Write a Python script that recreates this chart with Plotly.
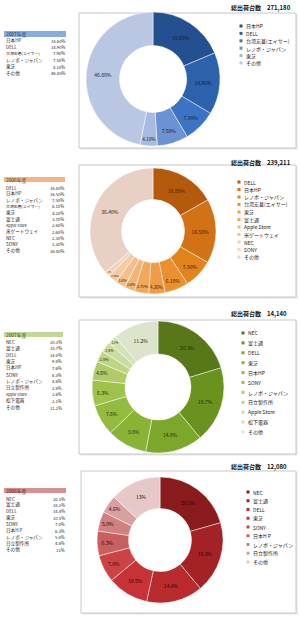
import plotly.graph_objects as go

W, H = 300, 619
FONT = "Noto Sans CJK JP"

# ---------------- data ----------------
p1_title = "総出荷台数　271,180"
p1_year = "2007年度"
p1_labels = ["日本HP", "DELL", "台湾宏碁(エイサー)", "レノボ・ジャパン", "東芝", "その他"]
p1_values = [18.60, 14.90, 7.90, 7.50, 4.10, 46.80]
p1_text = ["18.60%", "14.90%", "7.90%", "7.50%", "4.10%", "46.80%"]

p2_title = "総出荷台数　239,211"
p2_year = "2006年度"
p2_labels = ["DELL", "日本HP", "レノボ・ジャパン", "台湾宏碁(エイサー)", "東芝", "富士通",
             "Apple Store", "米ゲートウェイ", "NEC", "SONY", "その他"]
p2_values = [16.80, 16.50, 7.50, 6.10, 4.20, 3.70, 2.60, 2.60, 2.30, 1.30, 36.40]
p2_text = ["16.80%", "16.50%", "7.50%", "6.10%", "4.20%", "3.70%", "2.60%", "2.60%", "2.30%", "1.30%", "36.40%"]

p3_title = "総出荷台数　14,140"
p3_year = "2007年度"
p3_labels = ["NEC", "富士通", "DELL", "東芝", "日本HP", "SONY", "レノボ・ジャパン", "日立製作所",
             "Apple Store", "松下電器", "その他"]
p3_values = [20.3, 18.7, 14.0, 9.8, 7.6, 6.3, 4.6, 2.8, 2.6, 2.1, 11.2]
p3_text = ["20.3%", "18.7%", "14.0%", "9.8%", "7.6%", "6.3%", "4.6%", "2.8%", "2.6%", "2.1%", "11.2%"]

p4_title = "総出荷台数　12,080"
p4_year = "2006年度"
p4_labels = ["NEC", "富士通", "DELL", "東芝", "SONY", "日本H P", "レノボ・ジャパン", "日立製作所", "その他"]
p4_values = [20.5, 18.3, 14.4, 10.5, 7.0, 6.3, 5.0, 4.6, 13]
p4_text = ["20.5%", "18.3%", "14.4%", "10.5%", "7.0%", "6.3%", "5.0%", "4.6%", "13%"]

# ---------------- styles ----------------
p1_colors = ["#24508f", "#2c61ac", "#3b74c4", "#6a93d3", "#a6bbdf", "#b9c7e2"]
p2_colors = ["#b45a0c", "#d27116", "#e3831c", "#eb9030", "#ef9c45", "#f1a85a",
             "#f3b474", "#f4bf8c", "#f5caa4", "#f3d3bd", "#e9d0c5"]
p3_colors = ["#587719", "#6a921f", "#7da72a", "#8ab335", "#94bb3e", "#9fc24b",
             "#afcb68", "#bfd585", "#cbdd9e", "#d5e2b5", "#dde4cd"]
p4_colors = ["#8a1b1d", "#a32226", "#b92a2d", "#c63236", "#cd4345", "#c9605f",
             "#d0807f", "#d9a0a0", "#e6c8c8"]
header_colors = ["#88aee0", "#f4b585", "#c3d897", "#d88f8f"]
header_text_colors = ["#1b2f6a", "#5a2a00", "#2c3d10", "#5a1010"]

panels = [
    dict(title=p1_title, year=p1_year, labels=p1_labels, values=p1_values, text=p1_text, colors=p1_colors,
         cx=153, cy=79, R=67, box=(79, 13, 296, 148), title_y=8,
         leg_x=241, leg_y0=26, leg_dy=7.4,
         tab_hdr=(4, 31, 66, 37), tab_y0=40.5, tab_dy=6.5, txt_col="#141830"),
    dict(title=p2_title, year=p2_year, labels=p2_labels, values=p2_values, text=p2_text, colors=p2_colors,
         cx=153, cy=231, R=63, box=(79, 165, 296, 297), title_y=162,
         leg_x=239, leg_y0=182, leg_dy=7.5,
         tab_hdr=(4, 177, 65, 182), tab_y0=187.5, tab_dy=6.3, txt_col="#3a2000"),
    dict(title=p3_title, year=p3_year, labels=p3_labels, values=p3_values, text=p3_text, colors=p3_colors,
         cx=158, cy=387, R=66, box=(79, 320, 296, 454), title_y=313,
         leg_x=243, leg_y0=333, leg_dy=9.9,
         tab_hdr=(4, 332, 63, 337), tab_y0=341.5, tab_dy=6.6, txt_col="#1f2a05"),
    dict(title=p4_title, year=p4_year, labels=p4_labels, values=p4_values, text=p4_text, colors=p4_colors,
         cx=160, cy=540, R=63, box=(81, 471, 296, 613), title_y=466,
         leg_x=248, leg_y0=492, leg_dy=8.75,
         tab_hdr=(4, 488, 66, 493), tab_y0=498.5, tab_dy=6.4, txt_col="#2a0505"),
]


def px(x):
    return x / W


def py(y):
    return 1 - y / H


fig = go.Figure()
shapes = []
annotations = []

for i, p in enumerate(panels):
    cx, cy, R = p["cx"], p["cy"], p["R"]
    # chart box
    x0, y0, x1, y1 = p["box"]
    shapes.append(dict(type="rect", xref="paper", yref="paper",
                       x0=px(x0 + 1.5), x1=px(x1 + 1.5), y0=py(y1 + 1.5), y1=py(y0 + 1.5),
                       line=dict(width=0), fillcolor="#e4e4e4", layer="below"))
    shapes.append(dict(type="rect", xref="paper", yref="paper",
                       x0=px(x0), x1=px(x1), y0=py(y1), y1=py(y0),
                       line=dict(color="#c8c8c8", width=1), fillcolor="#ffffff", layer="below"))

    fig.add_trace(go.Pie(
        labels=p["labels"], values=p["values"], text=p["text"],
        textinfo="text", textposition="inside", insidetextorientation="horizontal",
        textfont=dict(size=5, color=p["txt_col"], family=FONT),
        hole=0.5, sort=False, direction="clockwise", rotation=0,
        marker=dict(colors=p["colors"], line=dict(color="rgba(255,255,255,0.6)", width=0.8)),
        domain=dict(x=[px(cx - R), px(cx + R)], y=[py(cy + R), py(cy - R)]),
        showlegend=False, hoverinfo="label+percent",
    ))

    # title
    annotations.append(dict(text="<b>" + p["title"] + "</b>", x=px(229), y=py(p["title_y"]),
                            xref="paper", yref="paper", xanchor="left", yanchor="middle",
                            showarrow=False, font=dict(size=6, color="#111", family=FONT)))

    # custom legend
    for k, (lab, col) in enumerate(zip(p["labels"], p["colors"])):
        ly = p["leg_y0"] + k * p["leg_dy"]
        lx = p["leg_x"]
        shapes.append(dict(type="rect", xref="paper", yref="paper",
                           x0=px(lx - 1.5), x1=px(lx + 1.5), y0=py(ly + 1.5), y1=py(ly - 1.5),
                           line=dict(width=0), fillcolor=col))
        annotations.append(dict(text=lab, x=px(lx + 2.5), y=py(ly), xref="paper", yref="paper",
                                xanchor="left", yanchor="middle", showarrow=False,
                                font=dict(size=5, color="#222", family=FONT)))

    # table
    hx0, hy0, hx1, hy1 = p["tab_hdr"]
    shapes.append(dict(type="rect", xref="paper", yref="paper",
                       x0=px(hx0), x1=px(hx1), y0=py(hy1), y1=py(hy0),
                       line=dict(width=0), fillcolor=header_colors[i]))
    annotations.append(dict(text=p["year"], x=px(hx0 + 1), y=py((hy0 + hy1) / 2), xref="paper", yref="paper",
                            xanchor="left", yanchor="middle", showarrow=False, borderpad=0,
                            font=dict(size=4.8, color=header_text_colors[i], family=FONT)))
    for k, (lab, t) in enumerate(zip(p["labels"], p["text"])):
        ty = p["tab_y0"] + k * p["tab_dy"]
        fs = 3.9 if len(lab) > 8 else 4.6
        annotations.append(dict(text=lab, x=px(5), y=py(ty), xref="paper", yref="paper",
                                xanchor="left", yanchor="middle", showarrow=False, borderpad=0,
                                font=dict(size=fs, color="#222", family=FONT)))
        annotations.append(dict(text=t, x=px(hx1), y=py(ty), xref="paper", yref="paper",
                                xanchor="right", yanchor="middle", showarrow=False, borderpad=0,
                                font=dict(size=4.2, color="#222", family=FONT)))

fig.update_layout(
    width=W, height=H, autosize=False,
    margin=dict(l=0, r=0, t=0, b=0),
    paper_bgcolor="#ffffff", plot_bgcolor="#ffffff",
    shapes=shapes, annotations=annotations,
    font=dict(family=FONT),
)

fig.write_html("out.html")
